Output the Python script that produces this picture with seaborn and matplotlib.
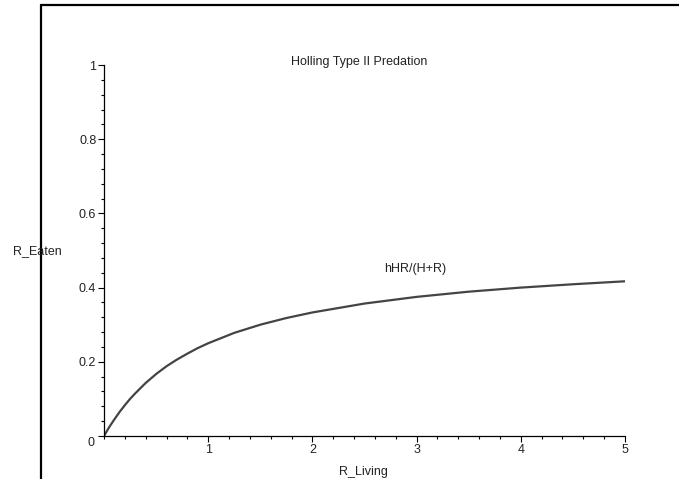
import matplotlib
matplotlib.use("Agg")
import matplotlib.pyplot as plt
from matplotlib.lines import Line2D
from matplotlib.ticker import MultipleLocator, FixedLocator
from matplotlib.transforms import ScaledTranslation
import seaborn as sns
import pandas as pd

# Values
r_living = [0, 0.05, 0.1, 0.15, 0.2, 0.25, 0.3, 0.4, 0.5, 0.6, 0.7, 0.8, 0.9, 1.0,
            1.25, 1.5, 1.75, 2.0, 2.5, 3.0, 3.5, 4.0, 4.5, 5.0]
r_eaten = [0, 0.024, 0.045, 0.065, 0.083, 0.100, 0.115, 0.143, 0.167, 0.188, 0.206,
           0.222, 0.237, 0.250, 0.278, 0.300, 0.318, 0.333, 0.357, 0.375, 0.389,
           0.400, 0.409, 0.417]
x_ticks = [1, 2, 3, 4, 5]
y_ticks = [0, 0.2, 0.4, 0.6, 0.8, 1]
y_tick_labels = ["0", "0.2", "0.4", "0.6", "0.8", "1"]

sns.set_theme(style="white")
plt.rcParams["font.family"] = ["Liberation Sans", "DejaVu Sans"]

FS = 9
TXT = "#222222"
fig = plt.figure(figsize=(6.79, 4.79), dpi=100)
W, H = 679, 479
ax = fig.add_axes([104 / W, 1 - 436 / H, 521 / W, 371 / H])

df = pd.DataFrame({"R_Living": r_living, "R_Eaten": r_eaten})
sns.lineplot(data=df, x="R_Living", y="R_Eaten", ax=ax, color="#444444", linewidth=1.6)

ax.set_xlim(0, 5)
ax.set_ylim(0, 1)
ax.set_xlabel("")
ax.set_ylabel("")
for s in ["top", "right"]:
    ax.spines[s].set_visible(False)
for s in ["left", "bottom"]:
    ax.spines[s].set_color("black")
    ax.spines[s].set_linewidth(0.9)

ax.xaxis.set_major_locator(FixedLocator(x_ticks))
ax.xaxis.set_minor_locator(MultipleLocator(0.2))
ax.set_yticks(y_ticks)
ax.set_yticklabels(y_tick_labels)
ax.yaxis.set_minor_locator(MultipleLocator(0.04))

ax.tick_params(axis="x", which="major", direction="out", length=4, width=0.8,
               color="black", labelsize=FS, pad=2, labelcolor=TXT, bottom=True)
ax.tick_params(axis="x", which="minor", direction="out", length=2, width=0.8,
               color="black", bottom=True)
ax.tick_params(axis="y", which="major", direction="out", length=4, width=0.8,
               color="black", labelsize=FS, pad=1.5, labelcolor=TXT, left=True)
ax.tick_params(axis="y", which="minor", direction="out", length=2.5, width=0.8,
               color="black", left=True)

# move the "0" origin label slightly down as in the reference
zero_label = ax.get_yticklabels()[0]
zero_label.set_transform(zero_label.get_transform() +
                         ScaledTranslation(-1 / 72, -5 / 100, fig.dpi_scale_trans))

# Annotations
fig.text(359 / W, 1 - 62 / H, "Holling Type II Predation", ha="center", va="center",
         fontsize=FS, color=TXT)
fig.text(363 / W, 1 - 472 / H, "R_Living", ha="center", va="center",
         fontsize=FS, color=TXT)
fig.text(13 / W, 1 - 251 / H, "R_Eaten", ha="left", va="center",
         fontsize=FS, color=TXT)
fig.text(384 / W, 1 - 269 / H, "hHR/(H+R)", ha="left", va="center",
         fontsize=FS, color=TXT)

# Outer frame lines (left and top)
fig.add_artist(Line2D([40.5 / W, 40.5 / W], [0, 1 - 5 / H], transform=fig.transFigure,
                      color="black", linewidth=1.6))
fig.add_artist(Line2D([40.5 / W, 1], [1 - 5 / H, 1 - 5 / H], transform=fig.transFigure,
                      color="black", linewidth=1.6))

fig.savefig("out.png", dpi=100)
